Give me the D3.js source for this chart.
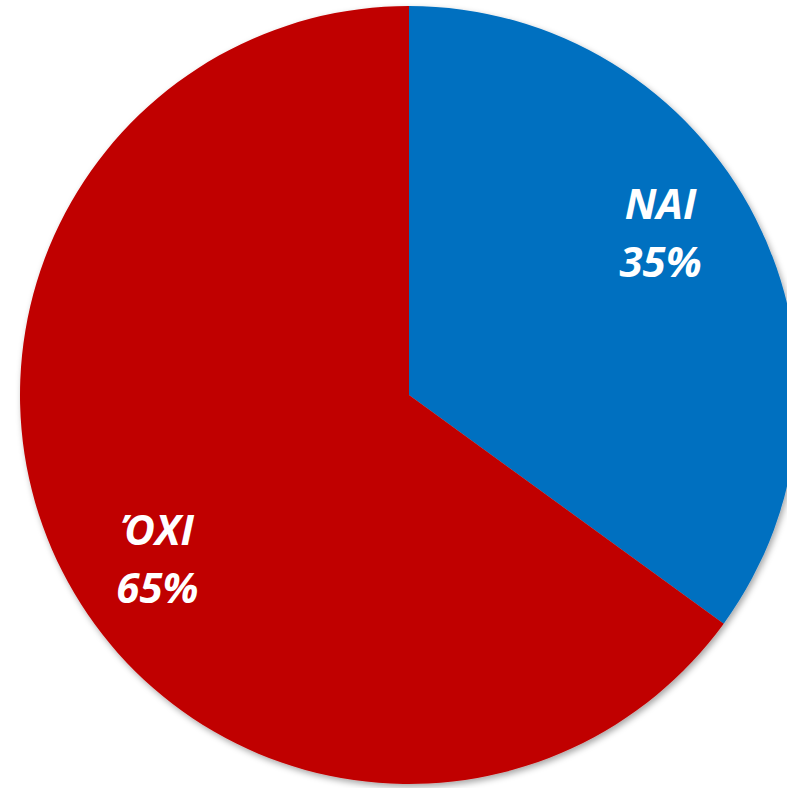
<!DOCTYPE html>
<html>
<head>
<meta charset="utf-8">
<script src="https://cdn.jsdelivr.net/npm/d3@7"></script>
<style>
  body { margin: 0; background: #fff; }
</style>
</head>
<body>
<div id="chart"></div>
<script>
// data
const categories = ["NAI", "ΌΧΙ"];
const values = [35, 65];
const colors = ["#0070C0", "#C00000"];

const dimensions = {
  width: 787,
  height: 788,
  cx: 409,
  cy: 395,
  radius: 389,
  labelRadius: 300,
};

const dataset = categories.map((c, i) => ({ name: c, value: values[i], color: colors[i] }));

const svg = d3
  .select("#chart")
  .append("svg")
  .attr("width", dimensions.width)
  .attr("height", dimensions.height);

// soft shadow like the office chart
const defs = svg.append("defs");
const filter = defs.append("filter").attr("id", "shadow")
  .attr("x", "-10%").attr("y", "-10%").attr("width", "120%").attr("height", "120%");
filter.append("feDropShadow")
  .attr("dx", 2).attr("dy", 3).attr("stdDeviation", 3)
  .attr("flood-color", "#000").attr("flood-opacity", 0.35);

const ctr = svg
  .append("g")
  .attr("transform", `translate(${dimensions.cx}, ${dimensions.cy})`);

const pie = d3.pie().value((d) => d.value).sort(null);
const arcs = pie(dataset);

const arc = d3.arc().innerRadius(0).outerRadius(dimensions.radius);

ctr
  .append("g")
  .attr("filter", "url(#shadow)")
  .selectAll("path")
  .data(arcs)
  .join("path")
  .attr("d", arc)
  .attr("fill", (d) => d.data.color);

// labels (nudged a bit counter-clockwise like the original's best-fit placement)
const nudge = (-6 * Math.PI) / 180;
const labelPos = (d) => {
  const a = (d.startAngle + d.endAngle) / 2 + nudge;
  return [dimensions.labelRadius * Math.sin(a), -dimensions.labelRadius * Math.cos(a)];
};

const labels = ctr
  .append("g")
  .selectAll("text")
  .data(arcs)
  .join("text")
  .attr("transform", (d) => `translate(${labelPos(d)})`)
  .attr("text-anchor", "middle")
  .attr("fill", "#fff")
  .style("font-family", "'Open Sans', 'DejaVu Sans', sans-serif")
  .style("font-weight", "bold")
  .style("font-style", "italic")
  .style("font-size", "42px");

labels.append("tspan").attr("x", 0).attr("y", -13).text((d) => d.data.name);
labels.append("tspan").attr("x", 0).attr("y", 45).text((d) => d.data.value + "%");
</script>
</body>
</html>
